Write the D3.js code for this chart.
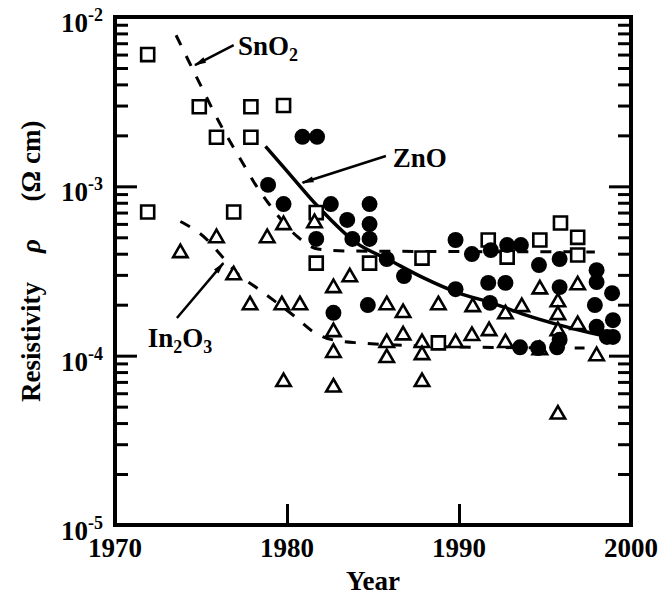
<!DOCTYPE html>
<html>
<head>
<meta charset="utf-8">
<script src="https://cdn.jsdelivr.net/npm/d3@7"></script>
<style>
  body { margin: 0; background: #fff; }
  svg { display: block; font-family: "Liberation Serif", "DejaVu Serif", serif; font-weight: bold; }
</style>
</head>
<body>
<div id="chart"></div>
<script>
// Resistivity of TCO films vs. year (SnO2, ZnO, In2O3)

// SnO2 - open squares [year, resistivity in ohm cm]
const sno2Points = [
    [1971.9, 6.0e-3], [1974.9, 2.95e-3], [1977.9, 2.95e-3], [1979.8, 3.0e-3],
    [1975.9, 1.95e-3], [1977.9, 1.95e-3], [1971.9, 7.05e-4], [1976.9, 7.05e-4],
    [1981.7, 7.0e-4], [1981.7, 3.52e-4], [1984.8, 3.52e-4], [1987.85, 3.77e-4],
    [1988.8, 1.19e-4], [1991.7, 4.82e-4], [1992.8, 3.82e-4], [1994.7, 4.82e-4],
    [1995.9, 6.07e-4], [1996.9, 5.0e-4], [1996.9, 3.93e-4]
];

// ZnO - filled circles
const znoPoints = [
    [1980.9, 1.96e-3], [1981.75, 1.96e-3], [1978.9, 1.02e-3], [1979.8, 7.86e-4],
    [1982.55, 7.86e-4], [1984.8, 7.86e-4], [1983.5, 6.33e-4], [1984.8, 5.99e-4],
    [1981.7, 4.89e-4], [1983.8, 4.89e-4], [1984.8, 4.89e-4], [1985.8, 3.72e-4],
    [1986.8, 2.95e-4], [1989.8, 4.82e-4], [1989.8, 2.47e-4], [1982.7, 1.79e-4],
    [1984.7, 1.99e-4], [1990.75, 3.98e-4], [1991.85, 4.2e-4], [1992.8, 4.5e-4],
    [1993.6, 4.5e-4], [1994.65, 3.43e-4], [1995.85, 3.72e-4], [1991.7, 2.69e-4],
    [1992.7, 2.69e-4], [1995.85, 2.54e-4], [1998.0, 3.2e-4], [1998.0, 2.72e-4],
    [1998.9, 2.34e-4], [1997.9, 1.99e-4], [1991.8, 2.05e-4], [1998.95, 1.62e-4],
    [1998.95, 1.29e-4], [1998.0, 1.48e-4], [1993.55, 1.12e-4], [1994.6, 1.11e-4],
    [1995.7, 1.12e-4], [1995.85, 1.24e-4], [1998.6, 1.29e-4]
];

// In2O3 - open triangles
const in2o3Points = [
    [1973.8, 4.04e-4], [1975.9, 4.95e-4], [1976.9, 2.99e-4], [1978.85, 4.95e-4],
    [1979.8, 5.91e-4], [1981.6, 6.07e-4], [1977.85, 1.99e-4], [1979.7, 1.99e-4],
    [1980.75, 1.99e-4], [1979.8, 7.0e-5], [1983.65, 2.91e-4], [1982.7, 2.51e-4],
    [1985.8, 1.99e-4], [1986.75, 1.79e-4], [1988.8, 1.99e-4], [1982.7, 1.38e-4],
    [1982.7, 1.04e-4], [1982.7, 6.5e-5], [1985.8, 1.19e-4], [1985.8, 9.7e-5],
    [1986.75, 1.32e-4], [1987.85, 1.19e-4], [1987.85, 1.01e-4], [1987.85, 7.0e-5],
    [1989.8, 1.19e-4], [1990.75, 1.31e-4], [1991.75, 1.4e-4], [1992.7, 1.19e-4],
    [1994.7, 1.08e-4], [1990.8, 1.94e-4], [1992.7, 1.76e-4], [1993.65, 1.94e-4],
    [1994.7, 2.47e-4], [1996.9, 2.61e-4], [1995.75, 2.07e-4], [1995.75, 1.74e-4],
    [1995.75, 1.4e-4], [1996.9, 1.52e-4], [1998.0, 9.95e-5], [1995.75, 4.5e-5]
];

// Trend lines
const sno2Trend = [
    [1973.55, 7.8e-3], [1974.8, 4.3e-3], [1976.05, 2.4e-3], [1977.45, 1.36e-3],
    [1978.15, 1.03e-3], [1978.9, 8.0e-4], [1980.7, 4.95e-4], [1981.8, 4.26e-4],
    [1983.5, 4.15e-4], [1997.9, 4.1e-4]
];
const znoTrend = [
    [1978.75, 1.72e-3], [1979.8, 1.3e-3], [1981.8, 7.6e-4], [1984.05, 4.62e-4],
    [1985.95, 3.67e-4], [1987.85, 2.91e-4], [1990.0, 2.34e-4], [1991.9, 2.05e-4],
    [1993.85, 1.74e-4], [1995.8, 1.52e-4], [1997.7, 1.36e-4], [1999.1, 1.27e-4]
];
const in2o3Trend = [
    [1973.8, 6.2e-4], [1975.3, 4.9e-4], [1976.15, 3.93e-4], [1977.15, 3.03e-4],
    [1978.25, 2.51e-4], [1980.4, 1.72e-4], [1981.55, 1.38e-4], [1982.65, 1.24e-4],
    [1984.15, 1.19e-4], [1991.2, 1.12e-4], [1997.3, 1.11e-4]
];

// Labels: [text, subscript-after-text, year, rho] and arrows [from, to]
const labels = [
    { parts: [["Sn", false], ["O", false], ["2", true]], at: [1977.15, 5.97e-3] },
    { parts: [["ZnO", false]], at: [1986.15, 1.3e-3] },
    { parts: [["In", false], ["2", true], ["O", false], ["3", true]], at: [1971.9, 1.12e-4] }
];
const arrows = [
    [[1976.9, 6.83e-3], [1974.65, 5.2e-3]],
    [[1985.75, 1.51e-3], [1980.9, 1.05e-3]],
    [[1973.6, 1.67e-4], [1976.3, 3.52e-4]]
];

const xTicks = [1970, 1980, 1990, 2000];
const yTicks = [1e-5, 1e-4, 1e-3, 1e-2];

const margin = { top: 17, right: 27, bottom: 73, left: 115 };
const width = 658 - margin.left - margin.right;
const height = 598 - margin.top - margin.bottom;

const svg = d3.select("#chart")
    .append("svg")
    .attr("width", 658)
    .attr("height", 598);

// arrowhead
svg.append("defs").append("marker")
    .attr("id", "head")
    .attr("viewBox", "0 0 12 8")
    .attr("refX", 11)
    .attr("refY", 4)
    .attr("markerUnits", "userSpaceOnUse")
    .attr("markerWidth", 13)
    .attr("markerHeight", 8)
    .attr("orient", "auto")
    .append("path")
    .attr("d", "M0,1 L12,4 L0,7 Z")
    .attr("fill", "#000");

const innerChart = svg.append("g")
    .attr("transform", `translate(${margin.left}, ${margin.top})`);

const xScale = d3.scaleLinear().domain([1970, 2000]).range([0, width]);
const yScale = d3.scaleLog().domain([1e-5, 1e-2]).range([height, 0]);

const majorY = yScale.ticks().filter(v => Math.abs(Math.log10(v) - Math.round(Math.log10(v))) < 1e-9);
const minorY = yScale.ticks().filter(v => !majorY.includes(v));

function styleTicks(g) {
    g.select(".domain").remove();
    g.selectAll("line").attr("stroke", "#000").attr("stroke-width", 3);
}

// left ticks (inward)
innerChart.append("g").call(d3.axisRight(yScale).tickValues(minorY).tickSize(13).tickFormat("")).call(styleTicks);
innerChart.append("g").call(d3.axisRight(yScale).tickValues(majorY).tickSize(22).tickFormat("")).call(styleTicks);
// right ticks (inward)
innerChart.append("g").attr("transform", `translate(${width},0)`)
    .call(d3.axisLeft(yScale).tickValues(minorY).tickSize(13).tickFormat("")).call(styleTicks);
innerChart.append("g").attr("transform", `translate(${width},0)`)
    .call(d3.axisLeft(yScale).tickValues(majorY).tickSize(22).tickFormat("")).call(styleTicks);
// bottom ticks (inward)
innerChart.append("g").attr("transform", `translate(0,${height})`)
    .call(d3.axisTop(xScale).tickValues([1980, 1990]).tickSize(21).tickFormat("")).call(styleTicks);

// frame
innerChart.append("rect")
    .attr("width", width)
    .attr("height", height)
    .attr("fill", "none")
    .attr("stroke", "#000")
    .attr("stroke-width", 4);

// x tick labels
innerChart.selectAll(".xlab")
    .data(xTicks)
    .join("text")
    .attr("class", "xlab")
    .attr("x", d => xScale(d))
    .attr("y", height + 32)
    .attr("text-anchor", "middle")
    .attr("font-size", 27)
    .text(d => d);

// y tick labels 10^n
const yLab = innerChart.selectAll(".ylab")
    .data(yTicks)
    .join("text")
    .attr("class", "ylab")
    .attr("x", -12)
    .attr("y", d => yScale(d) + 15)
    .attr("text-anchor", "end")
    .attr("font-size", 27);
yLab.append("tspan").text("10");
yLab.append("tspan")
    .attr("font-size", 18)
    .attr("dy", -11)
    .text(d => "-" + Math.round(-Math.log10(d)));

// axis titles
svg.append("text")
    .attr("x", margin.left + width / 2)
    .attr("y", 590)
    .attr("text-anchor", "middle")
    .attr("font-size", 27)
    .text("Year");

const yTitle = [["Resistivity", 342, "normal"], ["ρ", 246, "italic"], ["(Ω cm)", 161, "normal"]];
svg.selectAll(".ytitle")
    .data(yTitle)
    .join("text")
    .attr("class", "ytitle")
    .attr("transform", d => `translate(40, ${d[1]}) rotate(-90)`)
    .attr("text-anchor", "middle")
    .attr("font-size", 27)
    .attr("font-style", d => d[2])
    .text(d => d[0]);

// trend lines
const line = d3.line()
    .x(d => xScale(d[0]))
    .y(d => yScale(d[1]))
    .curve(d3.curveMonotoneX);

innerChart.append("path").datum(sno2Trend)
    .attr("d", line).attr("fill", "none").attr("stroke", "#000")
    .attr("stroke-width", 3).attr("stroke-dasharray", "11,12");
innerChart.append("path").datum(in2o3Trend)
    .attr("d", line).attr("fill", "none").attr("stroke", "#000")
    .attr("stroke-width", 3).attr("stroke-dasharray", "11,12");
innerChart.append("path").datum(znoTrend)
    .attr("d", line).attr("fill", "none").attr("stroke", "#000")
    .attr("stroke-width", 3.5);

// markers
const place = d => `translate(${xScale(d[0])}, ${yScale(d[1])})`;

innerChart.selectAll(".sno2")
    .data(sno2Points)
    .join("path")
    .attr("class", "sno2")
    .attr("transform", place)
    .attr("d", d3.symbol(d3.symbolSquare, 170))
    .attr("fill", "#fff")
    .attr("stroke", "#000")
    .attr("stroke-width", 2.6);

innerChart.selectAll(".in2o3")
    .data(in2o3Points)
    .join("path")
    .attr("class", "in2o3")
    .attr("transform", place)
    .attr("d", d3.symbol(d3.symbolTriangle, 90))
    .attr("fill", "#fff")
    .attr("stroke", "#000")
    .attr("stroke-width", 2.6);

innerChart.selectAll(".zno")
    .data(znoPoints)
    .join("path")
    .attr("class", "zno")
    .attr("transform", place)
    .attr("d", d3.symbol(d3.symbolCircle, 200))
    .attr("fill", "#000");

// annotations
innerChart.selectAll(".arrow")
    .data(arrows)
    .join("line")
    .attr("class", "arrow")
    .attr("x1", d => xScale(d[0][0]))
    .attr("y1", d => yScale(d[0][1]))
    .attr("x2", d => xScale(d[1][0]))
    .attr("y2", d => yScale(d[1][1]))
    .attr("stroke", "#000")
    .attr("stroke-width", 2.5)
    .attr("marker-end", "url(#head)");

const lab = innerChart.selectAll(".label")
    .data(labels)
    .join("text")
    .attr("class", "label")
    .attr("x", d => xScale(d.at[0]))
    .attr("y", d => yScale(d.at[1]))
    .attr("font-size", 27);
lab.each(function(d) {
    let shifted = false;
    d.parts.forEach(([t, sub]) => {
        const ts = d3.select(this).append("tspan").text(t);
        if (sub && !shifted) { ts.attr("dy", 6).attr("font-size", 18); shifted = true; }
        else if (sub) { ts.attr("dy", 6).attr("font-size", 18); shifted = true; }
        else if (shifted) { ts.attr("dy", -6); shifted = false; }
    });
});
</script>
</body>
</html>
